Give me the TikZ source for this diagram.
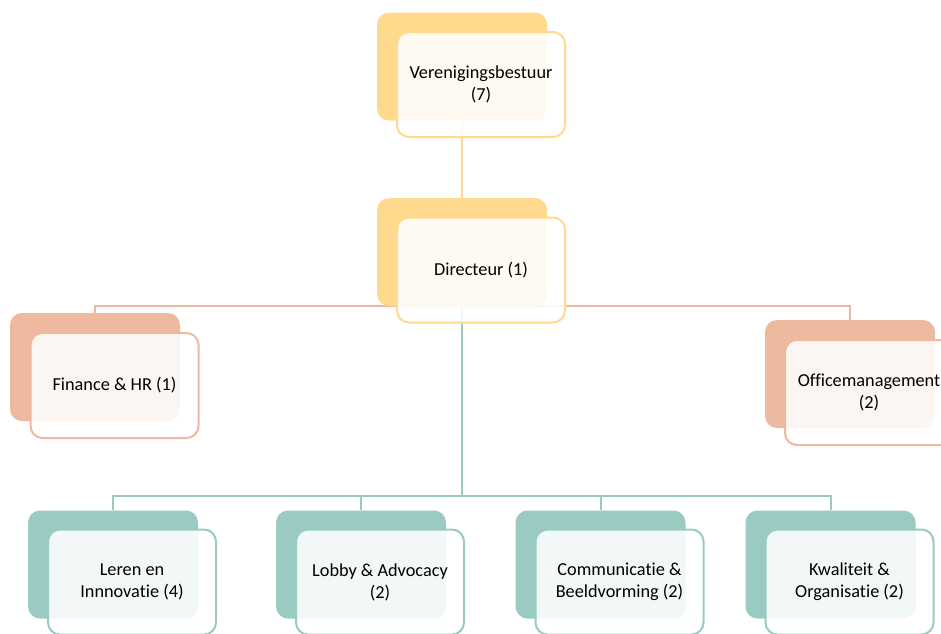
\documentclass[tikz,border=0pt]{standalone}
\usepackage{fontspec}
\setmainfont{Carlito}[Ligatures=NoCommon]
\usetikzlibrary{backgrounds}
\definecolor{gold}{HTML}{FFD98E}
\definecolor{salmon}{HTML}{EDB99F}
\definecolor{sea}{HTML}{9ACBC2}
\begin{document}
\begin{tikzpicture}
    [
    x=0.75pt,y=-0.75pt,
    back/.style={rounded corners=9pt,inner sep=0pt,minimum width=127.5pt,minimum height=81pt},
    front/.style={rounded corners=9pt,line width=1.5pt,fill=white,fill opacity=0.88,text opacity=1,
      inner sep=0pt,minimum width=126pt,minimum height=78.75pt,align=center,
      font=\fontsize{13.7}{16.5}\selectfont},
    link/.style={line width=1.5pt}
    ]
    \useasboundingbox (0,0) rectangle (941,633);
    \node (VB) at (462,66.5) [back,fill=gold] {};
    \node (VBt) at (481,84.5) [front,draw=gold] {Verenigingsbestuur\\(7)};
    \node (DIR) at (462,252) [back,fill=gold] {};
    \node (DIRt) at (481,270) [front,draw=gold] {Directeur (1)};
    \node (FIN) at (95,367) [back,fill=salmon] {};
    \node (FINt) at (114.5,385.5) [front,draw=salmon] {Finance \& HR (1)};
    \node (OFF) at (850,374) [back,fill=salmon] {};
    \node (OFFt) at (869,392.5) [front,draw=salmon] {Officemanagement\\(2)};
    \node (LER) at (113,564.5) [back,fill=sea] {};
    \node (LERt) at (132,582) [front,draw=sea] {Leren en\\Innnovatie (4)};
    \node (LOB) at (361,564.5) [back,fill=sea] {};
    \node (LOBt) at (380,582) [front,draw=sea] {Lobby \& Advocacy\\(2)};
    \node (COM) at (600.5,564.5) [back,fill=sea] {};
    \node (COMt) at (619.5,582) [front,draw=sea] {Communicatie \&\\Beeldvorming (2)};
    \node (KWA) at (830.5,564.5) [back,fill=sea] {};
    \node (KWAt) at (849.5,582) [front,draw=sea] {Kwaliteit \&\\Organisatie (2)};
    \coordinate (bus) at (462,496);
    \begin{scope}[on background layer]
    \draw [link,draw=gold] (VB.south) -- (DIR.north);
    \draw [link,draw=salmon] (DIR.south) -| (FIN.north);
    \draw [link,draw=salmon] (DIR.south) -| (OFF.north);
    \draw [link,draw=sea] (DIR.south) -- (bus);
    \draw [link,draw=sea] (bus) -| (LER.north);
    \draw [link,draw=sea] (bus) -| (LOB.north);
    \draw [link,draw=sea] (bus) -| (COM.north);
    \draw [link,draw=sea] (bus) -| (KWA.north);
    \end{scope}
  \end{tikzpicture}
\end{document}
